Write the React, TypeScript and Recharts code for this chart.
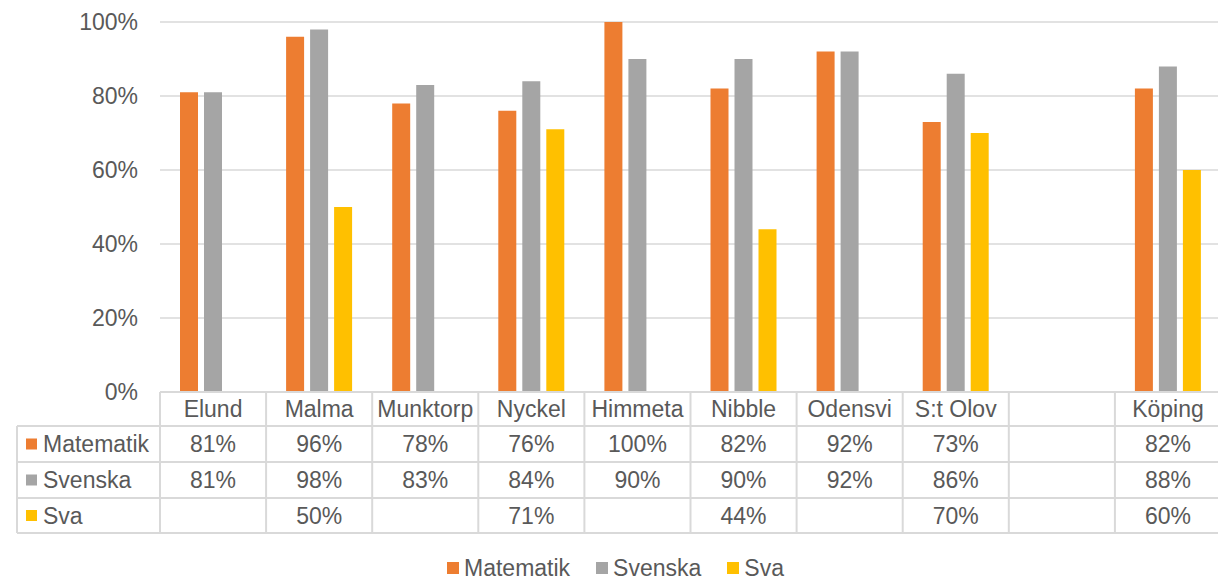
import React from 'react';
import { BarChart, Bar, XAxis, YAxis, CartesianGrid, Legend } from 'recharts';

const categories = ['Elund', 'Malma', 'Munktorp', 'Nyckel', 'Himmeta', 'Nibble', 'Odensvi', 'S:t Olov', '', 'Köping'];
const matematik: (number | null)[] = [81, 96, 78, 76, 100, 82, 92, 73, null, 82];
const svenska: (number | null)[] = [81, 98, 83, 84, 90, 90, 92, 86, null, 88];
const sva: (number | null)[] = [null, 50, null, 71, null, 44, null, 70, null, 60];
const yTicks = [0, 20, 40, 60, 80, 100];
const seriesNames = ['Matematik', 'Svenska', 'Sva'];
const seriesColors = ['#ED7D31', '#A5A5A5', '#FFC000'];
const seriesValues = [matematik, svenska, sva];

const data = categories.map((name, i) => ({
  name,
  Matematik: matematik[i],
  Svenska: svenska[i],
  Sva: sva[i],
}));

const W = 1221;
const H = 580;
const LEFT = 160;
const TOP = 22;
const PLOT_BOTTOM = 392;
const BAND = (W - LEFT) / categories.length;
const ROWS = [392, 426, 462, 498, 533];
const TABLE_LEFT = 17;
const TEXT = '#595959';
const LINE = '#d9d9d9';
const FONT = '"Liberation Sans", Arial, sans-serif';
const FS = 23;

const fmt = (v: number | null) => (v === null || v === undefined ? '' : `${v}%`);

function TableTick(props: any) {
  const { x, payload } = props;
  const i: number = payload && payload.index !== undefined ? payload.index : props.index;
  const left = x - BAND / 2;
  const right = x + BAND / 2;
  const mid = (a: number, b: number) => (a + b) / 2;
  const els: React.ReactNode[] = [];
  els.push(<line key="vl" x1={left} x2={left} y1={ROWS[0]} y2={ROWS[4]} stroke={LINE} strokeWidth={2} />);
  if (i === categories.length - 1) {
    els.push(<line key="vr" x1={right} x2={right} y1={ROWS[0]} y2={ROWS[4]} stroke={LINE} strokeWidth={2} />);
  }
  els.push(
    <text key="hd" x={x} y={mid(ROWS[0], ROWS[1])} dy="0.35em" textAnchor="middle" fill={TEXT} fontSize={FS} fontFamily={FONT}>
      {payload.value}
    </text>
  );
  seriesValues.forEach((vals, s) => {
    els.push(
      <text key={'v' + s} x={x} y={mid(ROWS[s + 1], ROWS[s + 2])} dy="0.35em" textAnchor="middle" fill={TEXT} fontSize={FS} fontFamily={FONT}>
        {fmt(vals[i])}
      </text>
    );
  });
  if (i === 0) {
    [1, 2, 3, 4].forEach((r) => {
      els.push(<line key={'h' + r} x1={TABLE_LEFT} x2={W} y1={ROWS[r]} y2={ROWS[r]} stroke={LINE} strokeWidth={2} />);
    });
    els.push(<line key="vt" x1={TABLE_LEFT} x2={TABLE_LEFT} y1={ROWS[1]} y2={ROWS[4]} stroke={LINE} strokeWidth={2} />);
    seriesNames.forEach((n, s) => {
      const cy = mid(ROWS[s + 1], ROWS[s + 2]);
      els.push(<rect key={'sq' + s} x={26} y={cy - 5.5} width={11} height={11} fill={seriesColors[s]} />);
      els.push(
        <text key={'ln' + s} x={43} y={cy} dy="0.35em" textAnchor="start" fill={TEXT} fontSize={FS} fontFamily={FONT}>
          {n}
        </text>
      );
    });
  }
  return <g>{els}</g>;
}

function YTick(props: any) {
  const { x, y, payload } = props;
  return (
    <text x={x} y={y} dy="0.35em" textAnchor="end" fill={TEXT} fontSize={FS} fontFamily={FONT}>
      {`${payload.value}%`}
    </text>
  );
}

function LegendContent(props: any) {
  const payload = [...(props.payload || [])].sort(
    (a: any, b: any) => seriesNames.indexOf(a.value) - seriesNames.indexOf(b.value)
  );
  return (
    <div style={{ display: 'flex', justifyContent: 'center', gap: 26, paddingLeft: 10, fontFamily: FONT, fontSize: FS, color: TEXT, lineHeight: '26px' }}>
      {payload.map((p: any) => (
        <div key={p.value} style={{ display: 'flex', alignItems: 'center' }}>
          <span style={{ display: 'inline-block', width: 12, height: 12, background: p.color, marginRight: 5 }} />
          <span>{p.value}</span>
        </div>
      ))}
    </div>
  );
}

export default function App() {
  return (
    <div style={{ position: 'absolute', left: 0, top: 0, width: 1218, height: 580, overflow: 'hidden', background: '#fff' }}>
      <BarChart width={W} height={H} data={data} margin={{ top: TOP, right: 0, bottom: 0, left: 0 }} barSize={18} barGap={6}>
        <CartesianGrid horizontal vertical={false} stroke={LINE} strokeWidth={1.5} />
        <YAxis
          width={LEFT}
          domain={[0, 100]}
          ticks={yTicks}
          axisLine={false}
          tickLine={false}
          tickSize={0}
          tickMargin={22}
          tick={<YTick />}
          interval={0}
        />
        <XAxis
          dataKey="name"
          height={H - PLOT_BOTTOM}
          axisLine={{ stroke: LINE, strokeWidth: 2 }}
          tickLine={false}
          tickSize={0}
          tickMargin={0}
          interval={0}
          tick={<TableTick />}
        />
        <Legend verticalAlign="middle" wrapperStyle={{ top: 555, left: 0, width: W }} content={<LegendContent />} />
        {seriesNames.map((n, s) => (
          <Bar key={n} dataKey={n} name={n} fill={seriesColors[s]} barSize={18} isAnimationActive={false} />
        ))}
      </BarChart>
    </div>
  );
}
